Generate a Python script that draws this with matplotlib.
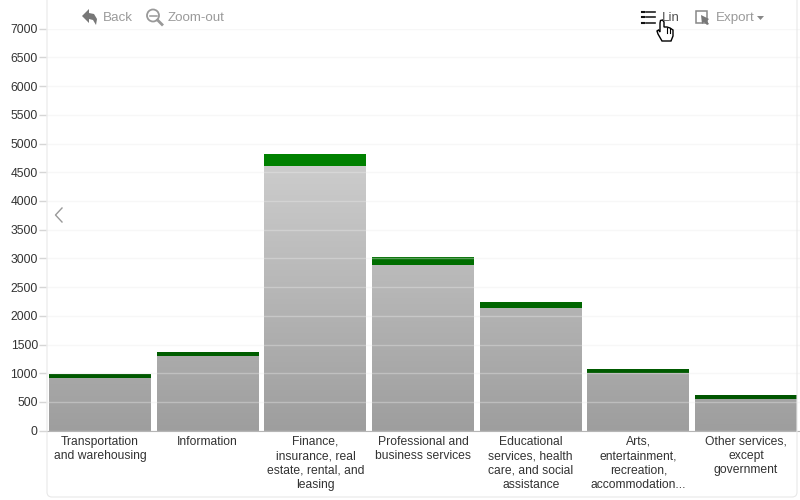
import numpy as np
import matplotlib
matplotlib.use('Agg')
import matplotlib.pyplot as plt
from matplotlib.colors import LinearSegmentedColormap
from matplotlib.patches import Polygon, Circle, Rectangle, FancyBboxPatch

plt.rcParams['font.family'] = ['Liberation Sans', 'DejaVu Sans']

categories = ['Transportation\nand warehousing', 'Information',
              'Finance,\ninsurance, real\nestate, rental, and\nleasing',
              'Professional and\nbusiness services',
              'Educational\nservices, health\ncare, and social\nassistance',
              'Arts,\nentertainment,\nrecreation,\naccommodation...',
              'Other services,\nexcept\ngovernment']
gray_values = [917, 1300, 4607, 2878, 2135, 1004, 546]
green_values = [73, 70, 208, 140, 105, 76, 74]
y_ticks = list(range(0, 7500, 500))

gray_cmap = LinearSegmentedColormap.from_list('gray_ramp', ['#9e9e9e', '#d0d0d0'])
green_cmap = LinearSegmentedColormap.from_list('green_ramp', ['#005000', '#008400'])

fig = plt.figure(figsize=(8, 5), dpi=100)
ax = fig.add_axes([46.2 / 800, 1 - 430.7 / 500, 753.7 / 800, (430.7 - 28.7) / 500])
x = np.arange(len(categories))

# bars get a vertical ramp, so clip a gradient image with each bar
ramp = np.linspace(0, 1, 256).reshape(-1, 1)
for i in x:
    for base, height, cmap in [(0, gray_values[i], gray_cmap),
                               (gray_values[i], green_values[i], green_cmap)]:
        bar = ax.bar(i, height, bottom=base, width=0.947, color='none', linewidth=0, zorder=2)[0]
        img = ax.imshow(ramp, cmap=cmap, origin='lower', aspect='auto', zorder=2,
                        extent=[-0.5, 6.5, 0, 5000], vmin=0, vmax=1)
        img.set_clip_path(bar)

ax.set_xlim(-0.5, 6.5)
ax.set_ylim(0, 7000)
ax.set_yticks(y_ticks)
ax.set_xticks(x)
ax.set_xticklabels(categories, linespacing=1.25)
ax.tick_params(axis='y', length=5, width=1, color='#d6d6d6', labelsize=8.7, labelcolor='#333333', pad=1)
ax.tick_params(axis='x', length=0, labelsize=8.7, labelcolor='#333333', pad=3.8)
ax.grid(axis='y', color='#ebebeb', alpha=0.38, linewidth=1, zorder=3)
ax.set_axisbelow(False)
for side in ['top', 'right', 'left']:
    ax.spines[side].set_visible(False)
ax.spines['bottom'].set_color('#b5b5b5')

# toolbar and card outline, in pixel coordinates
over = fig.add_axes([0, 0, 1, 1], zorder=5)
over.set_xlim(0, 800)
over.set_ylim(500, 0)
over.axis('off')
over.patch.set_alpha(0)
over.add_patch(FancyBboxPatch((47, -20), 750, 517, boxstyle='round,pad=0,rounding_size=5',
                              fill=False, edgecolor='#e8e8e8', linewidth=0.8))

over.text(103, 18, 'Back', fontsize=9.6, color='#9a9a9a', va='center')
over.text(168, 18, 'Zoom-out', fontsize=9.6, color='#9a9a9a', va='center')
over.text(662, 18, 'Lin', fontsize=9.6, color='#555555', va='center')
over.text(716, 18, 'Export', fontsize=9.6, color='#9a9a9a', va='center')

# back arrow
over.add_patch(Polygon([(82, 16), (89, 9), (89, 13), (94, 14), (97, 19), (96, 25),
                        (93, 20), (89, 19), (89, 23)], color='#777777', linewidth=0))
# zoom-out lens
over.add_patch(Circle((153, 15.5), 6, fill=False, edgecolor='#999999', linewidth=1.3))
over.plot([149.5, 156.5], [15.5, 15.5], color='#999999', linewidth=1.1)
over.plot([157.5, 162], [20, 24.5], color='#999999', linewidth=2)
# list icon
for ly in [11.5, 17, 22.5]:
    over.plot([642, 644], [ly, ly], color='#111111', linewidth=1.5)
    over.plot([645.5, 655], [ly, ly], color='#222222', linewidth=1.2)
# export icon
over.add_patch(Rectangle((696, 11), 11, 12, fill=False, edgecolor='#888888', linewidth=1.1))
over.add_patch(Polygon([(701, 15), (709, 19), (707, 21), (709, 24), (707, 25),
                        (704, 22), (702, 24)], color='#777777', linewidth=0))
over.add_patch(Polygon([(757, 16), (764, 16), (760.5, 20)], color='#888888', linewidth=0))
# carousel chevron
over.plot([62, 55.5, 62], [208, 215, 222], color='#999999', linewidth=1)
# hand cursor
over.add_patch(Polygon([(660, 23), (660.5, 20.5), (662.5, 20), (664, 22), (664, 27),
                        (667, 27), (670, 28), (673, 30), (673, 36), (671, 41),
                        (662, 41), (658, 34), (657, 31), (658.5, 30), (660, 32)],
                       facecolor='white', edgecolor='black', linewidth=1))
for hx in [666.5, 669.5]:
    over.plot([hx, hx], [28, 33], color='black', linewidth=0.8)

fig.savefig('out.png', dpi=100)
